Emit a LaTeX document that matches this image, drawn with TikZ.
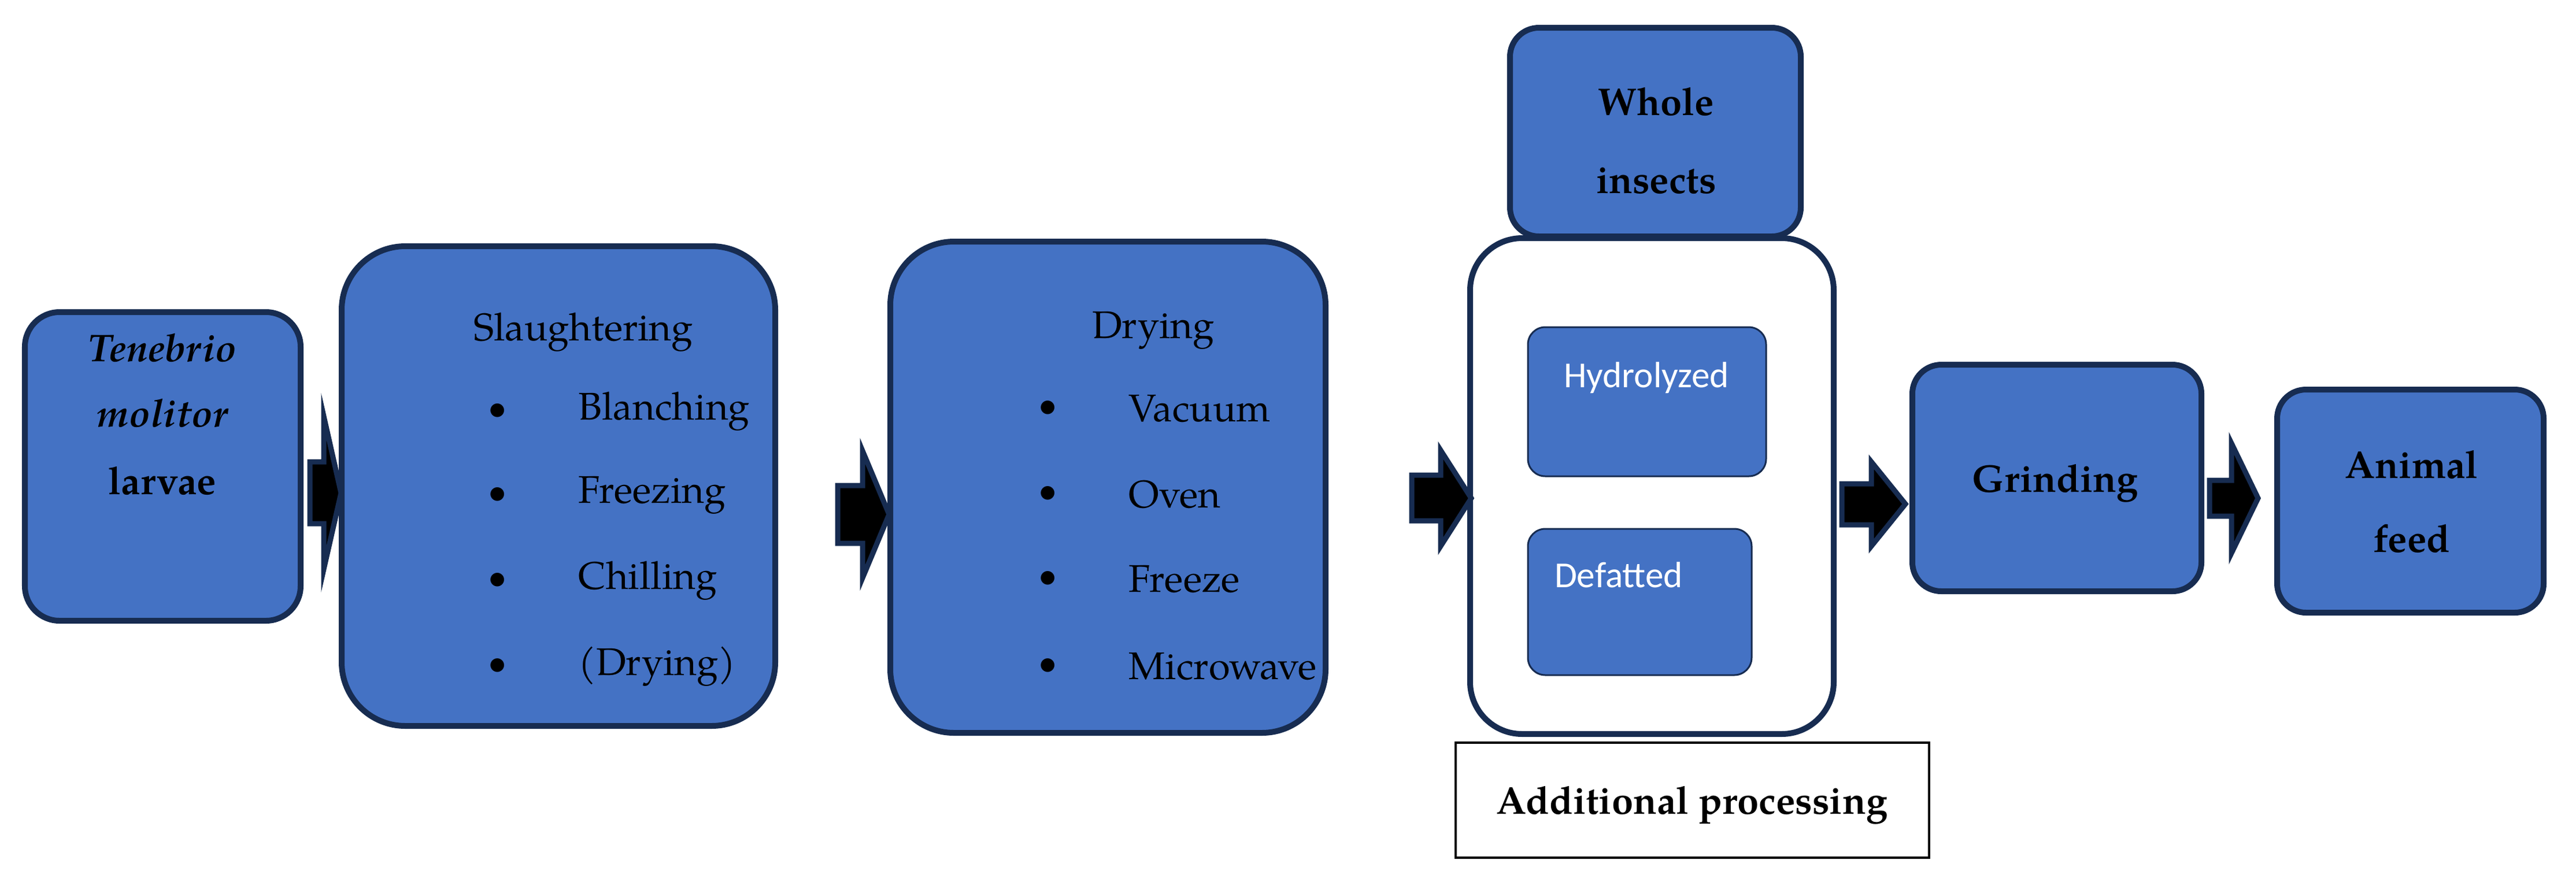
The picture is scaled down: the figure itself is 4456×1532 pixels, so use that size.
\documentclass[tikz,border=0pt]{standalone}
\usepackage{fontspec}
\setmainfont{TeX Gyre Pagella}
\newfontfamily\calib{Carlito}
\begin{document}
\begin{tikzpicture}[x=0.01cm,y=-0.01cm,
  box/.style={draw=navy,fill=myblue,line width=0.1cm,rounded corners=#1},
  box/.default=0.6cm,
  inner/.style={draw=navy,fill=myblue,line width=0.03cm,rounded corners=0.3cm},
  txt/.style={font=\fontsize{19}{22}\selectfont,inner sep=0pt},
  wtxt/.style={font=\calib\fontsize{18}{21}\selectfont,text=white,inner sep=0pt},
  arr/.style={draw=navy,fill=black,line width=0.09cm,line join=miter}]
\definecolor{navy}{HTML}{172C51}
\definecolor{myblue}{HTML}{4472C4}
\useasboundingbox (0,0) rectangle (4456,1532);
% boxes
\draw[box=0.6cm] (43,540) rectangle (520,1074);
\draw[box=1.1cm] (591,426) rectangle (1341,1256);
\draw[box=1.1cm] (1540,418) rectangle (2293,1268);
\draw[draw=navy,fill=white,line width=0.1cm,rounded corners=0.9cm] (2543,412) rectangle (3172,1270);
\draw[box=0.5cm] (2612,48) rectangle (3115,409);
\draw[inner] (2643,566) rectangle (3055,824);
\draw[inner] (2643,915) rectangle (3030,1168);
\draw[black,line width=0.04cm] (2518,1285) rectangle (3337,1484);
\draw[box=0.5cm] (3308,631) rectangle (3808,1023);
\draw[box=0.5cm] (3939,674) rectangle (4400,1060);
% texts
\node[txt] (t1) at (281,602) {\itshape\bfseries Tenebrio};
\node[txt] (t2) at (281,715) {\itshape\bfseries molitor};
\node[txt] (t3) at (281,832) {\bfseries larvae};
\node[txt] (s0) at (1009,575) {Slaughtering};
\foreach \y/\t in {712/Blanching,857/Freezing,1005/Chilling,1153/(Drying)}{
  \node[txt] at (861,\y) {$\bullet$};
  \node[txt,anchor=west] at (1000,\y) {\t};}
\node[txt] (d0) at (1995,572) {Drying};
\foreach \y/\t in {707/Vacuum,855/Oven,1002/Freeze,1153/Microwave}{
  \node[txt] at (1813,\y) {$\bullet$};
  \node[txt,anchor=west] at (1952,\y) {\t};}
\node[txt] (w1) at (2865,176) {\bfseries Whole};
\node[txt] (w2) at (2865,313) {\bfseries insects};
\node[wtxt] (h) at (2848,654) {Hydrolyzed};
\node[wtxt] (df) at (2800,995) {Defatted};
\node[txt] (ap) at (2927,1393) {\bfseries Additional processing};
\node[txt] (g) at (3555,836) {\bfseries Grinding};
\node[txt] (a1) at (4172,804) {\bfseries Animal};
\node[txt] (a2) at (4172,932) {\bfseries feed};
% arrows
\foreach \xa/\xb/\xc/\ya/\yb/\yc/\yd/\ym in {
  536/560/590/720/799/906/985/853,
  1449/1492/1538/780/840/940/1000/890,
  2442/2492/2545/779/822/901/945/862,
  3186/3237/3296/799/837/908/945/872,
  3822/3860/3906/767/831/893/957/862}{
  \draw[arr] (\xa,\yb) -- (\xb,\yb) -- (\xb,\ya) -- (\xc,\ym) -- (\xb,\yd) -- (\xb,\yc) -- (\xa,\yc) -- cycle;}
\end{tikzpicture}
\end{document}
